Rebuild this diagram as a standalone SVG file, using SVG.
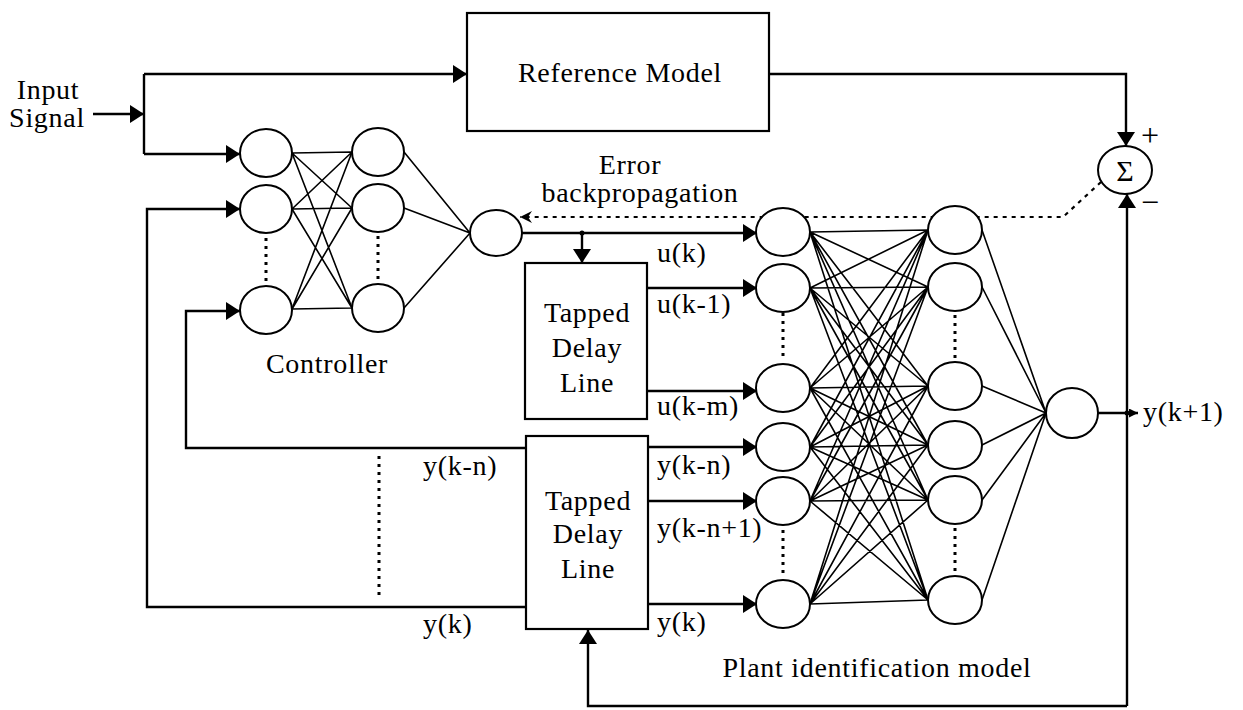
<svg xmlns="http://www.w3.org/2000/svg" width="1243" height="710" viewBox="0 0 1243 710" font-family="Liberation Serif, Times New Roman, serif">
<style>
  .t{font-size:28px;fill:#000;letter-spacing:0.7px}
  .m{text-anchor:middle}
  .w{stroke:#000;stroke-width:1.6;fill:none}
  .ln{stroke:#000;stroke-width:2.4;fill:none}
  .dot{stroke:#000;stroke-width:3;stroke-dasharray:3 5;fill:none}
  .err{stroke:#000;stroke-width:2.2;stroke-dasharray:4 5;fill:none}
  .n{fill:#fff;stroke:#000;stroke-width:2}
  .box{fill:#fff;stroke:#000;stroke-width:2.2}
</style>
<defs>
  <marker id="arr" viewBox="0 0 14 18" refX="14" refY="9" markerWidth="14" markerHeight="18" orient="auto" markerUnits="userSpaceOnUse">
    <path d="M0,0 L14,9 L0,18 z" fill="#000"/>
  </marker>
  <marker id="sarr" viewBox="0 0 9 9" refX="9" refY="4.5" markerWidth="9" markerHeight="9" orient="auto" markerUnits="userSpaceOnUse">
    <path d="M0,0 L9,4.5 L0,9 z" fill="#000"/>
  </marker>
  <marker id="earr" viewBox="0 0 12 12" refX="12" refY="6" markerWidth="12" markerHeight="12" orient="auto" markerUnits="userSpaceOnUse">
    <path d="M0,0 L12,6 L0,12 L4,6 z" fill="#000"/>
  </marker>
</defs>
<rect width="1243" height="710" fill="#fff"/>

<g id="connectors">
  <path class="w" d="M292,153 L352,152 M292,153 L352,208 M292,153 L352,308
    M292,209 L352,152 M292,209 L352,208 M292,209 L352,308
    M292,309 L352,152 M292,309 L352,208 M292,309 L352,308
    M404,152 L470,233 M404,208 L470,233 M404,308 L470,233"/>
  <path class="w" d="
    M810,232 L928,230 M810,232 L928,287 M810,232 L928,386 M810,232 L928,445 M810,232 L928,500 M810,232 L928,600
    M810,288 L928,230 M810,288 L928,287 M810,288 L928,386 M810,288 L928,445 M810,288 L928,500 M810,288 L928,600
    M810,388 L928,230 M810,388 L928,287 M810,388 L928,386 M810,388 L928,445 M810,388 L928,500 M810,388 L928,600
    M810,447 L928,230 M810,447 L928,287 M810,447 L928,386 M810,447 L928,445 M810,447 L928,500 M810,447 L928,600
    M810,501 L928,230 M810,501 L928,287 M810,501 L928,386 M810,501 L928,445 M810,501 L928,500 M810,501 L928,600
    M810,604 L928,230 M810,604 L928,287 M810,604 L928,386 M810,604 L928,445 M810,604 L928,500 M810,604 L928,600
    M982,230 L1046,413 M982,287 L1046,413 M982,386 L1046,413 M982,445 L1046,413 M982,500 L1046,413 M982,600 L1046,413"/>
  <path class="ln" d="M93,114 H144" marker-end="url(#arr)"/>
  <path class="ln" d="M144,74 V154"/>
  <path class="ln" d="M144,74 H467" marker-end="url(#arr)"/>
  <path class="ln" d="M144,154 H240" marker-end="url(#arr)"/>
  <path class="ln" d="M769,74 H1126 V146" marker-end="url(#arr)"/>
  <path class="ln" d="M1127,706 V194" marker-end="url(#arr)"/>
  <path class="ln" d="M526,607 H147 V209 H240" marker-end="url(#arr)"/>
  <path class="ln" d="M526,448 H186 V311 H240" marker-end="url(#arr)"/>
  <path class="ln" d="M522,233 H757" marker-end="url(#arr)"/>
  <path class="ln" d="M582,233 V263" marker-end="url(#arr)"/>
  <circle cx="582" cy="233" r="2.5" fill="#000"/>
  <path class="ln" d="M647,288 H757" marker-end="url(#arr)"/>
  <path class="ln" d="M647,391 H757" marker-end="url(#arr)"/>
  <path class="ln" d="M648,447 H757" marker-end="url(#arr)"/>
  <path class="ln" d="M648,501 H757" marker-end="url(#arr)"/>
  <path class="ln" d="M648,604 H757" marker-end="url(#arr)"/>
  <path class="ln" d="M1098,413 H1138" marker-end="url(#sarr)"/>
  <circle cx="1127" cy="413" r="2.5" fill="#000"/>
  <path class="ln" d="M1127,706 H588 V630" marker-end="url(#arr)"/>
  <path class="err" d="M1101,182 L1063,217 H520" marker-end="url(#earr)"/>
  <path class="dot" d="M266,238 V284 M378,236 V282 M783,313 V360 M955,315 V360 M783,530 V575 M955,528 V574 M379,456 V600"/>
</g>

<g id="reference-model">
  <rect class="box" x="467" y="13" width="302" height="118"/>
  <text class="t m" x="620" y="82">Reference Model</text>
</g>
<g id="input-signal">
  <text class="t m" x="48" y="99">Input</text>
  <text class="t m" x="47" y="127">Signal</text>
</g>
<g id="sum">
  <ellipse class="n" cx="1125" cy="170" rx="27" ry="24"/>
  <text class="t m" x="1125" y="181" style="font-size:30px;letter-spacing:0">Σ</text>
  <text class="t m" x="1150" y="146" style="font-size:32px;letter-spacing:0">+</text>
  <text class="t m" x="1150" y="213" style="font-size:32px;letter-spacing:0">−</text>
</g>

<g id="controller">
  <g id="c-in-1"><ellipse class="n" cx="266" cy="153" rx="26" ry="24"/></g>
  <g id="c-in-2"><ellipse class="n" cx="266" cy="209" rx="26" ry="24"/></g>
  <g id="c-in-3"><ellipse class="n" cx="266" cy="310" rx="26" ry="24"/></g>
  <g id="c-hid-1"><ellipse class="n" cx="378" cy="152" rx="26" ry="24"/></g>
  <g id="c-hid-2"><ellipse class="n" cx="378" cy="208" rx="26" ry="24"/></g>
  <g id="c-hid-3"><ellipse class="n" cx="378" cy="308" rx="26" ry="24"/></g>
  <g id="c-out"><ellipse class="n" cx="496" cy="233" rx="26" ry="23"/></g>
  <text class="t m" x="327" y="373">Controller</text>
</g>

<g id="plant">
  <g id="p-in-1"><ellipse class="n" cx="783" cy="232" rx="27" ry="24"/></g>
  <g id="p-in-2"><ellipse class="n" cx="783" cy="288" rx="27" ry="24"/></g>
  <g id="p-in-3"><ellipse class="n" cx="783" cy="388" rx="27" ry="24"/></g>
  <g id="p-in-4"><ellipse class="n" cx="783" cy="447" rx="27" ry="24"/></g>
  <g id="p-in-5"><ellipse class="n" cx="783" cy="501" rx="27" ry="24"/></g>
  <g id="p-in-6"><ellipse class="n" cx="783" cy="604" rx="27" ry="24"/></g>
  <g id="p-hid-1"><ellipse class="n" cx="955" cy="230" rx="27" ry="24"/></g>
  <g id="p-hid-2"><ellipse class="n" cx="955" cy="287" rx="27" ry="24"/></g>
  <g id="p-hid-3"><ellipse class="n" cx="955" cy="386" rx="27" ry="24"/></g>
  <g id="p-hid-4"><ellipse class="n" cx="955" cy="445" rx="27" ry="24"/></g>
  <g id="p-hid-5"><ellipse class="n" cx="955" cy="500" rx="27" ry="24"/></g>
  <g id="p-hid-6"><ellipse class="n" cx="955" cy="600" rx="27" ry="24"/></g>
  <g id="p-out"><ellipse class="n" cx="1072" cy="413" rx="26" ry="25"/></g>
  <text class="t m" x="877" y="677">Plant identification model</text>
</g>

<g id="tdl-u">
  <rect class="box" x="525" y="263" width="122" height="156"/>
  <text class="t m" x="587" y="322">Tapped</text>
  <text class="t m" x="587" y="357">Delay</text>
  <text class="t m" x="587" y="392">Line</text>
</g>
<g id="tdl-y">
  <rect class="box" x="526" y="436" width="122" height="193"/>
  <text class="t m" x="588" y="510">Tapped</text>
  <text class="t m" x="588" y="543">Delay</text>
  <text class="t m" x="588" y="578">Line</text>
</g>

<g id="labels">
  <text class="t m" x="630" y="174">Error</text>
  <text class="t m" x="640" y="202">backpropagation</text>
  <text class="t" x="657" y="262">u(k)</text>
  <text class="t" x="657" y="313">u(k-1)</text>
  <text class="t" x="657" y="415">u(k-m)</text>
  <text class="t" x="657" y="474">y(k-n)</text>
  <text class="t" x="657" y="537">y(k-n+1)</text>
  <text class="t" x="657" y="631">y(k)</text>
  <text class="t" x="423" y="475">y(k-n)</text>
  <text class="t" x="423" y="633">y(k)</text>
  <text class="t" x="1143" y="421">y(k+1)</text>
</g>
</svg>
